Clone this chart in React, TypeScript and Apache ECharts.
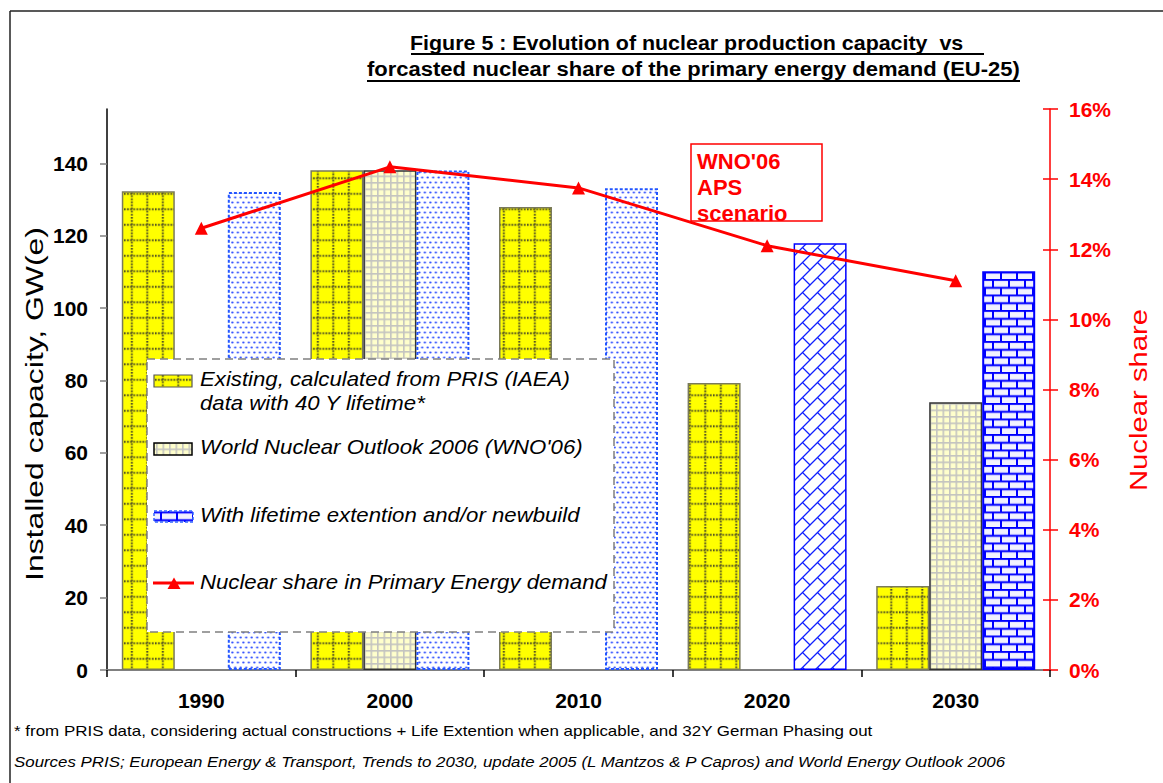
import React, { useEffect, useRef } from 'react';
import * as echarts from 'echarts';

const categories = ['1990', '2000', '2010', '2020', '2030'];
const existing = [132.3, 138.1, 127.9, 79.3, 23.2];
const wno: (number | string)[] = ['-', 138.1, '-', '-', 74.0];
const extension = [132.1, 138.0, 133.1, 117.9, 110.2];
const nuclearShare = [12.6, 14.35, 13.75, 12.1, 11.1];
const leftTicks = [0, 20, 40, 60, 80, 100, 120, 140];

const FONT = '"Liberation Sans", Arial, sans-serif';

function pattern(w: number, h: number, draw: (c: CanvasRenderingContext2D) => void) {
  const S = 4;
  const cv = document.createElement('canvas');
  cv.width = Math.round(w * S);
  cv.height = Math.round(h * S);
  const ctx = cv.getContext('2d')!;
  ctx.scale(S, S);
  draw(ctx);
  return { image: cv.toDataURL(), repeat: 'repeat', imageWidth: w, imageHeight: h } as any;
}

function buildPatterns() {
  const yellow = pattern(15.5, 15.5, (c) => {
    c.fillStyle = '#FFFF00';
    c.fillRect(0, 0, 15.5, 15.5);
    c.fillStyle = '#3a3a28';
    for (let i = 0; i < 5; i++) {
      c.fillRect(7, i * 3.1, 1.7, 1.7);
      c.fillRect(i * 3.1, 7, 1.7, 1.7);
    }
  });
  const beige = pattern(6.5, 6.5, (c) => {
    c.fillStyle = '#FFFFCC';
    c.fillRect(0, 0, 6.5, 6.5);
    c.fillStyle = '#C4C4C0';
    c.fillRect(0, 0, 1.7, 6.5);
    c.fillRect(0, 0, 6.5, 1.7);
  });
  const dots = pattern(5.5, 10, (c) => {
    c.fillStyle = '#FFFFFF';
    c.fillRect(0, 0, 5.5, 10);
    c.fillStyle = '#2244FF';
    c.beginPath();
    c.arc(1.4, 2.5, 1.0, 0, Math.PI * 2);
    c.closePath();
    c.moveTo(5.15, 7.5);
    c.arc(4.15, 7.5, 1.0, 0, Math.PI * 2);
    c.fill();
  });
  const T = 15;
  const diag = pattern(T, T, (c) => {
    c.fillStyle = '#FFFFFF';
    c.fillRect(0, 0, T, T);
    c.strokeStyle = '#1020FF';
    c.lineWidth = 1.3;
    c.beginPath();
    c.moveTo(-1, T + 1); c.lineTo(T + 1, -1);
    c.moveTo(-1, 1); c.lineTo(1, -1);
    c.moveTo(T - 1, T + 1); c.lineTo(T + 1, T - 1);
    c.moveTo(T / 2, T / 2); c.lineTo(T + 0.5, T + 0.5);
    c.moveTo(-0.5, -0.5); c.lineTo(0.5, 0.5);
    c.stroke();
  });
  const brick = pattern(16, 15.5, (c) => {
    c.fillStyle = '#F2F2FF';
    c.fillRect(0, 0, 16, 15.5);
    c.fillStyle = '#0000FF';
    c.fillRect(0, 0, 16, 2);
    c.fillRect(0, 7.75, 16, 2);
    c.fillRect(0, 0, 2, 7.75);
    c.fillRect(8, 7.75, 2, 7.75);
  });
  return { yellow, beige, dots, diag, brick };
}

export default function App() {
  const ref = useRef<HTMLDivElement>(null);
  useEffect(() => {
    const chart = echarts.init(ref.current!, null, { renderer: 'svg' });
    const p = buildPatterns();
    const yellowStyle = { color: p.yellow, borderColor: '#7a7a5a', borderWidth: 1.5 };
    const beigeStyle = { color: p.beige, borderColor: '#333333', borderWidth: 1.5 };
    const dotsStyle = { color: p.dots, borderColor: '#2255FF', borderWidth: 2, borderType: [3, 2] };
    const diagStyle = { color: p.diag, borderColor: '#0000FF', borderWidth: 1.5 };
    const brickStyle = { color: p.brick, borderColor: '#0000FF', borderWidth: 2 };
    const extStyles = [dotsStyle, dotsStyle, dotsStyle, diagStyle, brickStyle];

    const txt = (x: number, y: number, text: string, font: string, sx = 1, fill = '#000') => ({
      type: 'text', x, y, z: 100, scaleX: sx,
      style: { text, font, fill, textAlign: 'left', textVerticalAlign: 'middle' },
    });

    const LEG = 'italic 20px ' + FONT;
    const LSX = 1.11;

    const option: any = {
      animation: false,
      backgroundColor: '#ffffff',
      grid: { left: 107, right: 113, top: 109, bottom: 113, containLabel: false },
      xAxis: {
        type: 'category',
        data: categories,
        axisLine: { lineStyle: { color: '#808080', width: 2 } },
        axisTick: { show: true, length: 7, lineStyle: { color: '#000', width: 1.5 } },
        axisLabel: { fontSize: 21, fontWeight: 'bold', color: '#000', margin: 20, fontFamily: FONT },
        splitLine: { show: false },
      },
      yAxis: [
        {
          type: 'value', min: 0, max: 155, interval: 20, position: 'left',
          axisLine: { show: true, lineStyle: { color: '#000', width: 1.5 } },
          axisTick: { show: true, length: 7, customValues: leftTicks, lineStyle: { color: '#808080', width: 1.5 } },
          axisLabel: { customValues: leftTicks, fontSize: 21, fontWeight: 'bold', color: '#000', margin: 19, fontFamily: FONT },
          splitLine: { show: false },
        },
        {
          type: 'value', min: 0, max: 16, interval: 2, position: 'right',
          axisLine: { show: true, lineStyle: { color: '#FF0000', width: 1.5 } },
          axisTick: { show: true, length: 8, lineStyle: { color: '#FF0000', width: 1.5 } },
          axisLabel: { fontSize: 21, fontWeight: 'bold', color: '#FF0000', margin: 19, fontFamily: FONT, formatter: '{value}%' },
          splitLine: { show: false },
        },
        {
          type: 'value', min: 0, max: 16, interval: 2, position: 'right',
          axisLine: { show: false },
          axisTick: { show: true, inside: true, length: 7, lineStyle: { color: '#FF0000', width: 1.5 } },
          axisLabel: { show: false },
          splitLine: { show: false },
        },
      ],
      series: [
        {
          name: 'Existing', type: 'bar', barWidth: 53, barGap: '0%',
          data: existing.map((v) => ({ value: v, itemStyle: yellowStyle })),
        },
        {
          name: 'WNO06', type: 'bar', barWidth: 53, barGap: '0%',
          data: wno.map((v) => ({ value: v, itemStyle: beigeStyle })),
        },
        {
          name: 'Extension', type: 'bar', barWidth: 53, barGap: '0%',
          data: extension.map((v, i) => ({ value: v, itemStyle: extStyles[i] })),
        },
        {
          name: 'Nuclear share', type: 'line', yAxisIndex: 1, data: nuclearShare,
          symbol: 'triangle', symbolSize: 13, z: 5,
          itemStyle: { color: '#FF0000' },
          lineStyle: { color: '#FF0000', width: 3 },
        },
      ],
      graphic: {
        elements: [
          { type: 'line', z: 100, shape: { x1: 10, y1: 11, x2: 1163, y2: 11 }, style: { stroke: '#222', lineWidth: 1.5 } },
          { type: 'line', z: 100, shape: { x1: 10, y1: 11, x2: 10, y2: 783 }, style: { stroke: '#222', lineWidth: 1.5 } },
          txt(410, 43, 'Figure 5 : Evolution of nuclear production capacity  vs', 'bold 21px ' + FONT, 1.02),
          { type: 'line', z: 100, shape: { x1: 411, y1: 54, x2: 984, y2: 54 }, style: { stroke: '#000', lineWidth: 2 } },
          txt(367, 69, 'forcasted nuclear share of the primary energy demand (EU-25)', 'bold 21px ' + FONT, 1.048),
          { type: 'line', z: 100, shape: { x1: 367, y1: 81, x2: 1020, y2: 81 }, style: { stroke: '#000', lineWidth: 2 } },
          { type: 'rect', z: 100, shape: { x: 691, y: 144, width: 131, height: 77 }, style: { fill: 'none', stroke: '#FF0000', lineWidth: 1.5 } },
          {
            type: 'text', x: 697, y: 148, z: 100,
            style: { text: "WNO'06\nAPS\nscenario", font: 'bold 22px ' + FONT, fill: '#FF0000', lineHeight: 26, textAlign: 'left', textVerticalAlign: 'top' },
          },
          { type: 'rect', z: 100, shape: { x: 147, y: 359, width: 467, height: 273 }, style: { fill: '#ffffff', stroke: '#808080', lineWidth: 1.5, lineDash: [8, 5] } },
          { type: 'rect', z: 101, shape: { x: 154, y: 375, width: 38, height: 12 }, style: { fill: p.yellow, stroke: '#555', lineWidth: 1.2 } },
          { type: 'rect', z: 101, shape: { x: 154, y: 443, width: 38, height: 12 }, style: { fill: p.beige, stroke: '#000', lineWidth: 1.5 } },
          { type: 'rect', z: 101, shape: { x: 154, y: 511, width: 39, height: 11 }, style: { fill: p.brick, stroke: '#3366FF', lineWidth: 1.5, lineDash: [3, 2] } },
          { type: 'line', z: 101, shape: { x1: 153, y1: 583, x2: 194, y2: 583 }, style: { stroke: '#FF0000', lineWidth: 3 } },
          { type: 'polygon', z: 101, shape: { points: [[167.5, 589], [180.5, 589], [174, 577.5]] }, style: { fill: '#FF0000' } },
          txt(200, 379, 'Existing, calculated from PRIS (IAEA)', LEG, LSX),
          txt(200, 403, 'data with 40 Y lifetime*', LEG, LSX),
          txt(200, 447, "World Nuclear Outlook 2006 (WNO'06)", LEG, LSX),
          txt(200, 515, 'With lifetime extention and/or newbuild', LEG, LSX),
          txt(200, 582, 'Nuclear share in Primary Energy demand', LEG, LSX),
          {
            type: 'text', x: 35, y: 404, z: 100, rotation: Math.PI / 2, scaleX: 1.33,
            style: { text: 'Installed capacity, GW(e)', font: '24px ' + FONT, fill: '#000', textAlign: 'center', textVerticalAlign: 'middle' },
          },
          {
            type: 'text', x: 1139, y: 400, z: 100, rotation: Math.PI / 2, scaleX: 1.22,
            style: { text: 'Nuclear share', font: '24px ' + FONT, fill: '#FF0000', textAlign: 'center', textVerticalAlign: 'middle' },
          },
          txt(14, 731, '* from PRIS data, considering actual constructions + Life Extention when applicable, and 32Y German Phasing out', '15px ' + FONT, 1.13),
          txt(14, 762, 'Sources PRIS; European Energy & Transport, Trends to 2030, update 2005 (L Mantzos & P Capros) and World Energy Outlook 2006', 'italic 15px ' + FONT, 1.125),
        ],
      },
    };
    chart.setOption(option);
    return () => chart.dispose();
  }, []);
  return <div ref={ref} style={{ position: 'fixed', left: 0, top: 0, width: 1163, height: 783, background: '#fff' }} />;
}
